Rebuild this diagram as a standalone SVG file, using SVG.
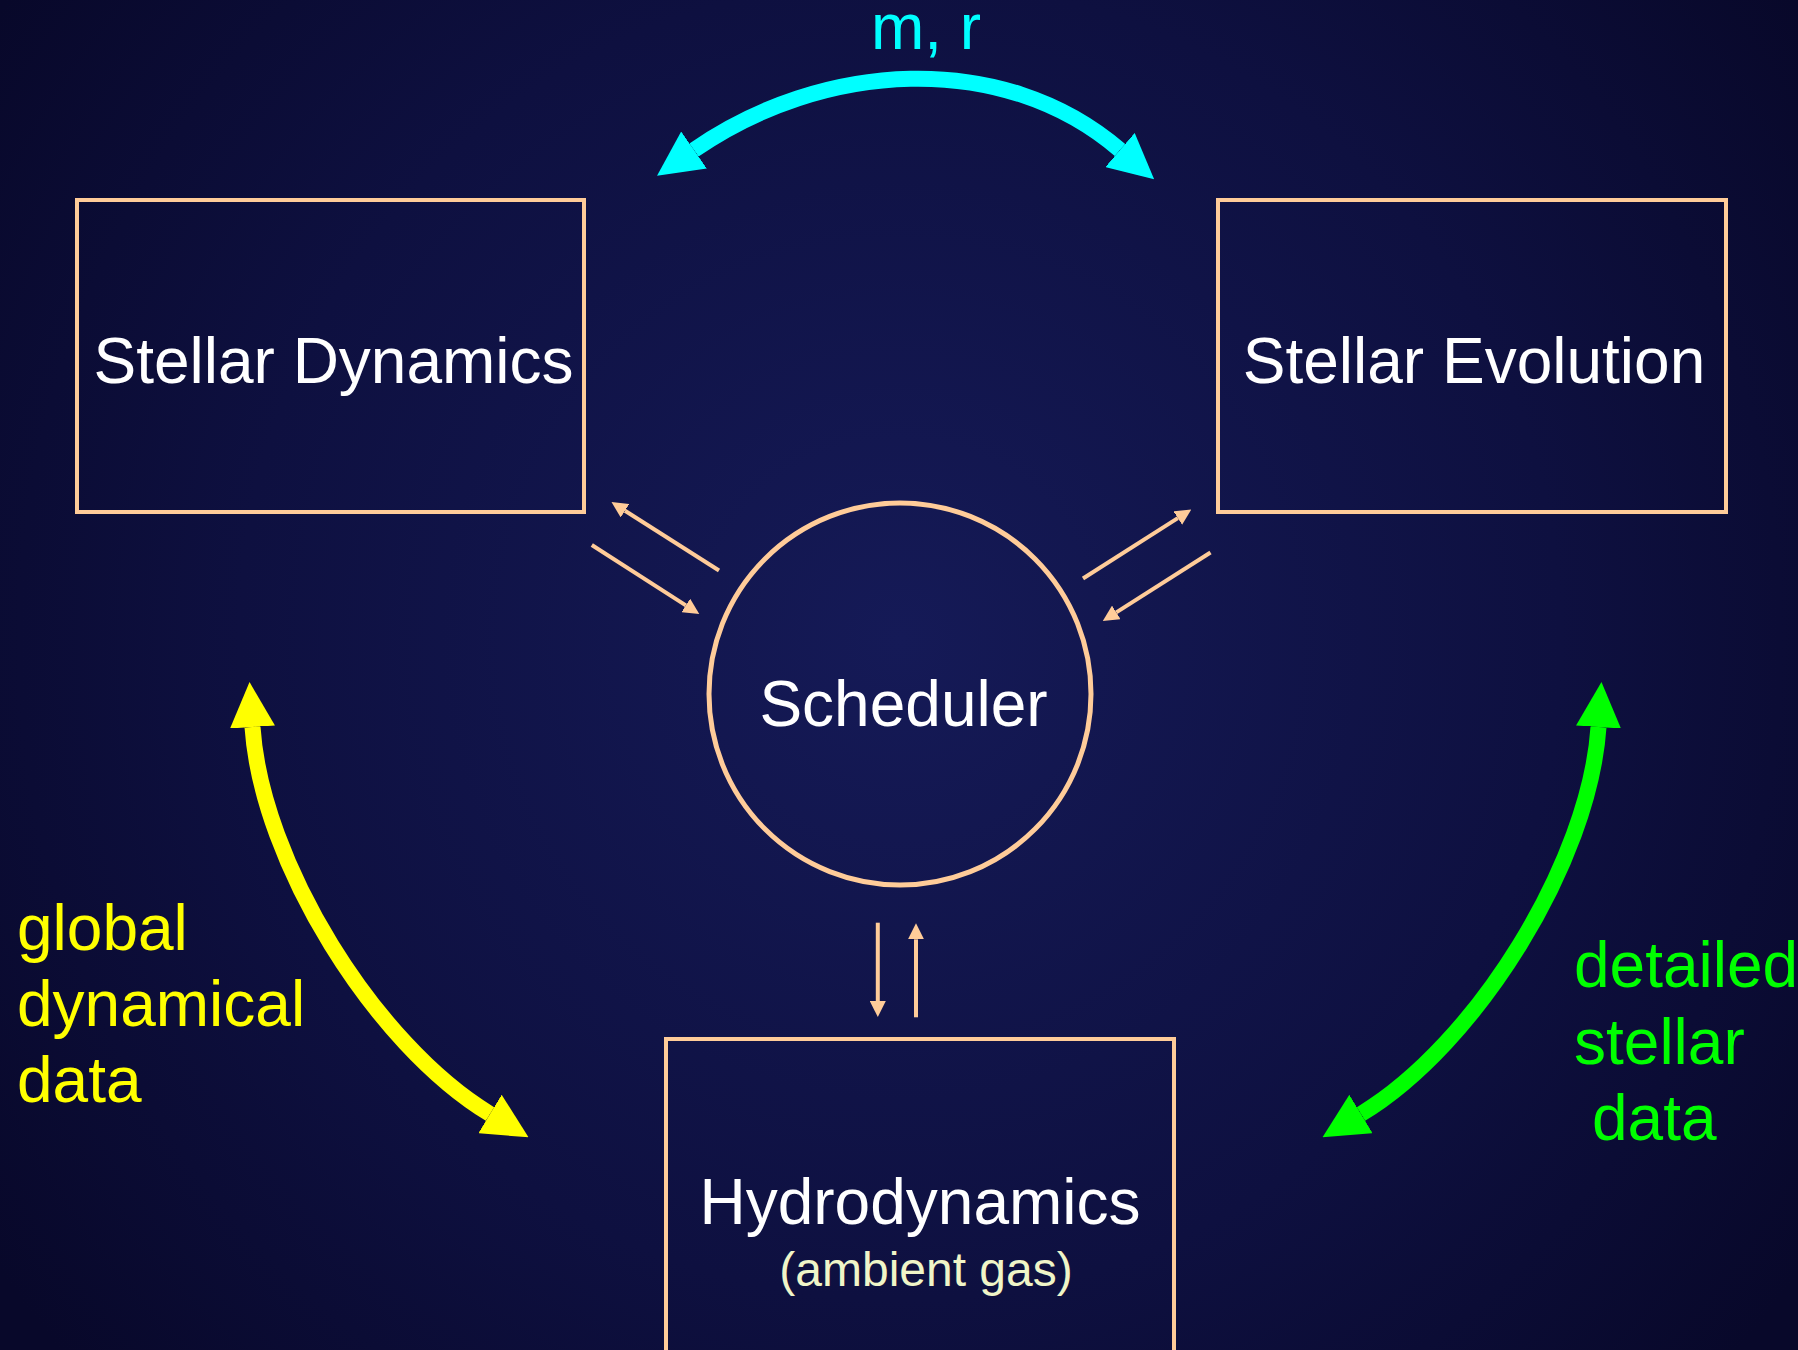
<svg xmlns="http://www.w3.org/2000/svg" width="1798" height="1350" viewBox="0 0 1798 1350">
<defs>
<radialGradient id="bg" cx="900" cy="640" r="1100" gradientUnits="userSpaceOnUse">
<stop offset="0" stop-color="#151a57"/>
<stop offset="0.6" stop-color="#0e1040"/>
<stop offset="1" stop-color="#08082a"/>
</radialGradient>
<marker id="bigCyan" viewBox="0 0 45 45" refX="0" refY="22.5" markerWidth="45" markerHeight="45" markerUnits="userSpaceOnUse" orient="auto-start-reverse"><path d="M0,0 L45,22.5 L0,45 z" fill="#00ffff"/></marker>
<marker id="bigYellow" viewBox="0 0 45 45" refX="0" refY="22.5" markerWidth="45" markerHeight="45" markerUnits="userSpaceOnUse" orient="auto-start-reverse"><path d="M0,0 L45,22.5 L0,45 z" fill="#ffff00"/></marker>
<marker id="bigGreen" viewBox="0 0 45 45" refX="0" refY="22.5" markerWidth="45" markerHeight="45" markerUnits="userSpaceOnUse" orient="auto-start-reverse"><path d="M0,0 L45,22.5 L0,45 z" fill="#00ff00"/></marker>
<marker id="small" viewBox="0 0 16 16" refX="0" refY="8" markerWidth="16" markerHeight="16" markerUnits="userSpaceOnUse" orient="auto"><path d="M0,0 L16,8 L0,16 z" fill="#ffcc99"/></marker>
</defs>
<style>
.box{fill:none;stroke:#ffcc99;stroke-width:4}
.lbl{font-family:"Liberation Sans",Arial,sans-serif;font-size:64px;fill:#ffffff;text-anchor:middle}
.sub{font-family:"Liberation Sans",Arial,sans-serif;font-size:48px;fill:#f0f5c8;text-anchor:middle}
.note{font-family:"Liberation Sans",Arial,sans-serif;font-size:64px}
.thin{fill:none;stroke:#ffcc99;stroke-width:4;marker-end:url(#small)}
.big{fill:none;stroke-width:16}
</style>
<rect x="0" y="0" width="1798" height="1350" fill="url(#bg)"/>

<g id="connectors">
<path class="big" stroke="#00ffff" d="M694,150 C821.7,61.4 1002,48.6 1120,150" marker-start="url(#bigCyan)" marker-end="url(#bigCyan)"/>
<path class="big" stroke="#00ff00" d="M1598.5,727 C1589.6,861.7 1476.4,1044.2 1361,1114" marker-start="url(#bigGreen)" marker-end="url(#bigGreen)"/>
<path class="big" stroke="#ffff00" d="M252.5,727 C261.4,861.7 374.6,1044.2 490,1114" marker-start="url(#bigYellow)" marker-end="url(#bigYellow)"/>
<path class="thin" d="M719,570.5 L625,510.7"/>
<path class="thin" d="M591.8,545 L685.8,605.4"/>
<path class="thin" d="M1083,578.5 L1177.8,518.1"/>
<path class="thin" d="M1210.5,552.5 L1116.3,612.4"/>
<path class="thin" d="M877.8,922.7 L877.8,1001"/>
<path class="thin" d="M916,1017.3 L916,939.3"/>
</g>

<g id="stellar-dynamics">
<rect class="box" x="77" y="200" width="507" height="312"/>
<text class="lbl" x="333.5" y="383">Stellar Dynamics</text>
</g>
<g id="stellar-evolution">
<rect class="box" x="1218" y="200" width="508" height="312"/>
<text class="lbl" x="1474" y="383">Stellar Evolution</text>
</g>
<g id="scheduler">
<circle cx="900" cy="694" r="191" fill="none" stroke="#ffcc99" stroke-width="5"/>
<text class="lbl" x="903.5" y="726">Scheduler</text>
</g>
<g id="hydrodynamics">
<rect class="box" x="666" y="1039" width="508" height="400"/>
<text class="lbl" x="920" y="1224">Hydrodynamics</text>
<text class="sub" x="926" y="1286">(ambient gas)</text>
</g>

<g id="labels">
<text class="note" x="926" y="49" font-size="62" fill="#00ffff" text-anchor="middle">m, r</text>
<text class="note" fill="#ffff00"><tspan x="17" y="950">global</tspan><tspan x="17" y="1026">dynamical</tspan><tspan x="17" y="1102">data</tspan></text>
<text class="note" fill="#00ff00"><tspan x="1574" y="987">detailed</tspan><tspan x="1574" y="1064">stellar</tspan><tspan x="1592" y="1140">data</tspan></text>
</g>
</svg>
